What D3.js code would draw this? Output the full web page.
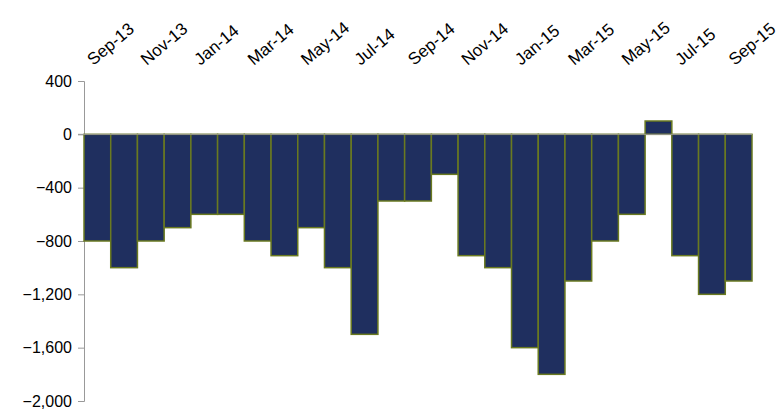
<!DOCTYPE html>
<html><head><meta charset="utf-8">
<script src="https://cdn.jsdelivr.net/npm/d3@7"></script>
<style>body{margin:0;background:#fff}text{font-family:"Liberation Sans",Arial,sans-serif}</style>
</head><body><svg id="c" width="783" height="412"></svg>
<script>
const months = ["Sep-13","Oct-13","Nov-13","Dec-13","Jan-14","Feb-14","Mar-14","Apr-14","May-14","Jun-14","Jul-14","Aug-14","Sep-14","Oct-14","Nov-14","Dec-14","Jan-15","Feb-15","Mar-15","Apr-15","May-15","Jun-15","Jul-15","Aug-15","Sep-15"];
const values = [-800,-1000,-800,-700,-600,-600,-800,-910,-700,-1000,-1500,-500,-500,-300,-910,-1000,-1600,-1800,-1100,-800,-600,100,-910,-1200,-1100];
const yTicks = [400,0,-400,-800,-1200,-1600,-2000];

const svg = d3.select("#c");
const x = d3.scaleBand().domain(months).range([84, 752]).padding(0);
const y = d3.scaleLinear().domain([-2000, 400]).range([401, 81]);

const yAxis = svg.append("g").attr("transform", "translate(84,0)")
  .call(d3.axisLeft(y).tickValues(yTicks).tickSize(6).tickFormat(d3.format(",")));
yAxis.select(".domain").attr("stroke", "#999");
yAxis.selectAll(".tick line").attr("stroke", "#999");
yAxis.selectAll(".tick text").attr("font-size", 16).attr("fill", "#000").attr("x", -12);

svg.selectAll("rect.bar").data(values).join("rect")
  .attr("x", (d, i) => x(months[i]))
  .attr("width", x.bandwidth())
  .attr("y", d => y(Math.max(0, d)))
  .attr("height", d => Math.abs(y(d) - y(0)))
  .attr("fill", "#1f2f5f").attr("stroke", "#6a7a20").attr("stroke-width", 1.5);

svg.append("line").attr("x1", 78).attr("x2", 752).attr("y1", y(0)).attr("y2", y(0))
  .attr("stroke", "#999");

svg.selectAll("text.mon").data(months.filter((m, i) => i % 2 === 0)).join("text")
  .attr("class", "mon")
  .attr("transform", m => `translate(${x(m) + x.bandwidth() / 2 - 4},66) rotate(-40)`)
  .attr("font-size", 17).text(m => m);
</script></body></html>
